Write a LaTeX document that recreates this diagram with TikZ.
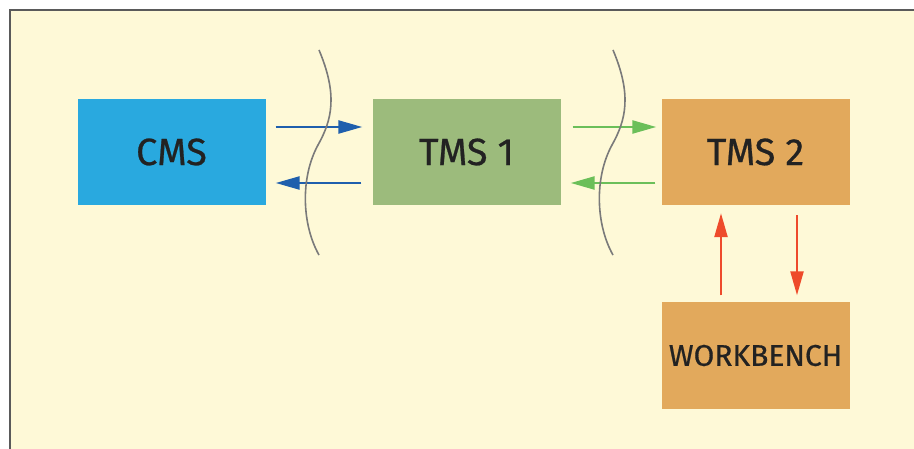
\documentclass[tikz,border=0pt]{standalone}
\usepackage{fontspec}
\setmainfont[FakeBold=0.6]{Fira Sans}
\usetikzlibrary{arrows.meta}
\definecolor{panel}{HTML}{FEF9D7}
\definecolor{frameline}{HTML}{5A5A5A}
\definecolor{cmsblue}{HTML}{29A9DF}
\definecolor{tmsgreen}{HTML}{9CBB7C}
\definecolor{tmsorange}{HTML}{E2A95C}
\definecolor{arrblue}{HTML}{1F5FAD}
\definecolor{arrgreen}{HTML}{6BBF59}
\definecolor{arrred}{HTML}{EE4B2B}
\definecolor{wavegray}{HTML}{7A7A7A}
\definecolor{labeltext}{HTML}{222222}
\tikzset{
  sysbox/.style={minimum width=188pt, minimum height=106pt, inner sep=0pt,
    text=labeltext, font=\fontsize{38}{44}\selectfont},
  link/.style={line width=2.4pt, -{Triangle[length=24pt,width=13pt]}},
  wave/.style={wavegray, line width=1.6pt},
}
\begin{document}
\begin{tikzpicture}[x=1pt,y=-1pt]
\useasboundingbox (0,0) rectangle (914,449);
% background panel
\fill[white] (0,0) rectangle (914,449);
\filldraw[fill=panel, draw=frameline, line width=2pt] (10,10) rectangle (930,470);

% system boxes
\node[sysbox, fill=cmsblue]   (cms)  at (171.5,152) {CMS};
\node[sysbox, fill=tmsgreen]  (tms1) at (466.5,152) {TMS 1};
\node[sysbox, fill=tmsorange] (tms2) at (755.5,152) {TMS 2};
\node[sysbox, fill=tmsorange, font=\fontsize{30}{34}\selectfont] (wb) at (755.5,355.5) {WORKBENCH};

% connectors (yshift is in page units: positive = up)
\coordinate (c1a) at ([xshift=10pt,yshift=25pt]cms.east);
\coordinate (c1b) at ([xshift=-10pt,yshift=25pt]tms1.west);
\coordinate (c2a) at ([xshift=-11pt,yshift=-31pt]tms1.west);
\coordinate (c2b) at ([xshift=10pt,yshift=-31pt]cms.east);
\draw[link, arrblue] (c1a) -- (c1b);
\draw[link, arrblue] (c2a) -- (c2b);

\coordinate (g1a) at ([xshift=12pt,yshift=25pt]tms1.east);
\coordinate (g1b) at ([xshift=-5pt,yshift=25pt]tms2.west);
\coordinate (g2a) at ([xshift=-6pt,yshift=-31pt]tms2.west);
\coordinate (g2b) at ([xshift=10pt,yshift=-31pt]tms1.east);
\draw[link, arrgreen] (g1a) -- (g1b);
\draw[link, arrgreen] (g2a) -- (g2b);

\coordinate (r1a) at ([xshift=-34.5pt,yshift=7pt]wb.north);
\coordinate (r1b) at ([xshift=-34.5pt,yshift=-8pt]tms2.south);
\coordinate (r2a) at ([xshift=41.5pt,yshift=-10pt]tms2.south);
\coordinate (r2b) at ([xshift=41.5pt,yshift=7pt]wb.north);
\draw[link, arrred] (r1a) -- (r1b);
\draw[link, arrred] (r2a) -- (r2b);

% break marks between systems
\draw[wave] (319,50) .. controls (338,95) and (332,120) .. (318,145)
            .. controls (300,178) and (302,225) .. (319,255);
\draw[wave] (613,50) .. controls (632,95) and (626,120) .. (612,145)
            .. controls (594,178) and (596,225) .. (613,255);
\end{tikzpicture}
\end{document}
